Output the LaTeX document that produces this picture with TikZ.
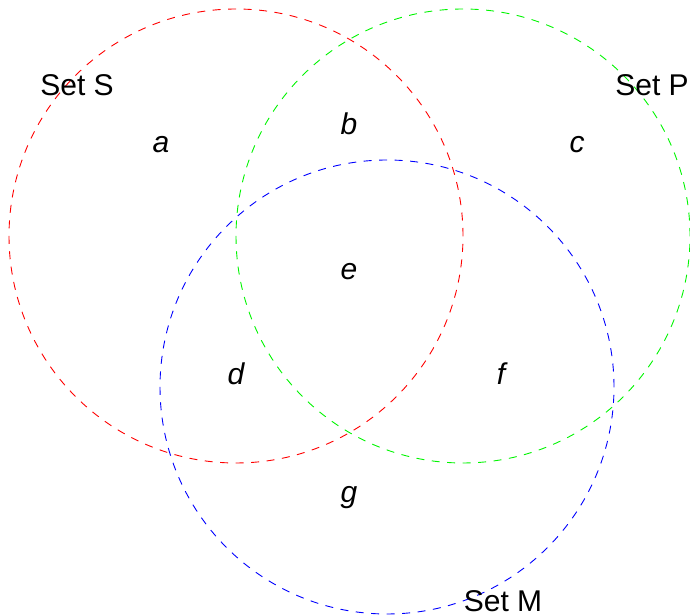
\documentclass[tikz,border=0pt]{standalone}
\usepackage{fontspec}
\setmainfont{Liberation Sans}
\begin{document}
\begin{tikzpicture}[x=1pt,y=1pt,
  setcircle/.style={circle,draw,dash pattern=on 8pt off 7.5pt,line width=0.9pt,minimum size=454pt,inner sep=0pt},
  lbl/.style={inner sep=0pt,font=\fontsize{30}{36}\selectfont},
  region/.style={inner sep=0pt,font=\fontsize{30}{36}\selectfont\itshape}]
\useasboundingbox (0,0) rectangle (690,615);
\node[setcircle,draw={rgb,255:red,255;green,0;blue,0}] (S) at (236,379) {};
\node[setcircle,draw={rgb,255:red,0;green,245;blue,0}] (P) at (463,379) {};
\node[setcircle,draw={rgb,255:red,0;green,0;blue,255}] (M) at (387,228) {};
\node[lbl] (lS) at (77,530) {Set S};
\node[lbl] (lP) at (652,530) {Set P};
\node[lbl] (lM) at (503,14) {Set M};
\node[region] (ra) at (161,470) {a};
\node[region] (rb) at (349,491) {b};
\node[region] (rc) at (577,470) {c};
\node[region] (re) at (349,343) {e};
\node[region] (rd) at (236,241) {d};
\node[region] (rf) at (501,241) {f};
\node[region] (rg) at (349,117) {g};
\end{tikzpicture}
\end{document}
